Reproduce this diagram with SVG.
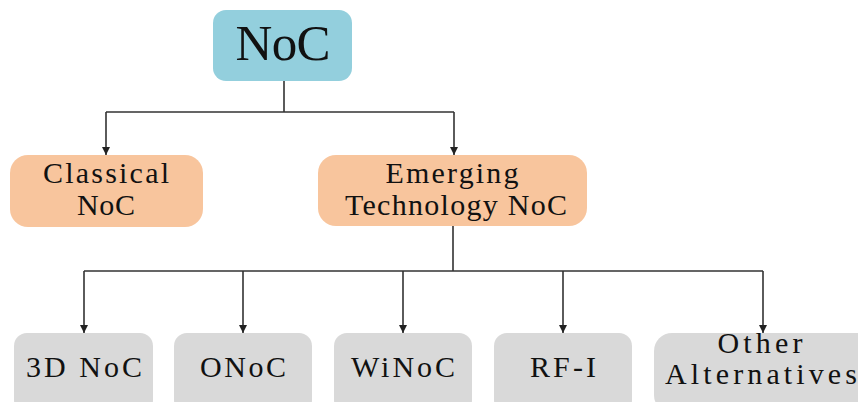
<svg xmlns="http://www.w3.org/2000/svg" width="858" height="402" viewBox="0 0 858 402">
  <defs>
    <marker id="arrow" viewBox="0 0 10 10" refX="10" refY="5" markerWidth="8" markerHeight="8" markerUnits="userSpaceOnUse" orient="auto">
      <path d="M0,0 L10,5 L0,10 z" fill="#222"/>
    </marker>
    <style>
      .root { fill: #93cfdd; }
      .mid { fill: #f8c59d; }
      .leaf { fill: #d9d9d9; }
      text { font-family: "Liberation Serif", "Times New Roman", serif; fill: #111; text-anchor: middle; }
      .big { font-size: 51px; }
      .lbl { font-size: 30px; }
      .wire { fill: none; stroke: #333; stroke-width: 1.6; }
      .arr { fill: none; stroke: #333; stroke-width: 1.6; marker-end: url(#arrow); }
    </style>
  </defs>
  <rect width="858" height="402" fill="#ffffff"/>

  <!-- connectors -->
  <g id="connectors">
    <path class="wire" d="M284,81 V112 M106,112 H454"/>
    <path class="arr" d="M106,112 V155"/>
    <path class="arr" d="M454,112 V155"/>
    <path class="wire" d="M453,226 V271 M84,271 H763"/>
    <path class="arr" d="M84,271 V333"/>
    <path class="arr" d="M243,271 V333"/>
    <path class="arr" d="M403,271 V333"/>
    <path class="arr" d="M563,271 V333"/>
    <path class="arr" d="M763,271 V333"/>
  </g>

  <g id="noc">
    <rect class="root" x="213" y="10" width="139" height="71" rx="13"/>
    <text class="big" x="283" y="60" textLength="95" lengthAdjust="spacing">NoC</text>
  </g>

  <g id="classical">
    <rect class="mid" x="10" y="155" width="193" height="72" rx="18"/>
    <text class="lbl" x="106" y="183" textLength="126" lengthAdjust="spacing">Classical</text>
    <text class="lbl" x="106" y="215" textLength="58" lengthAdjust="spacing">NoC</text>
  </g>

  <g id="emerging">
    <rect class="mid" x="318" y="155" width="269" height="71" rx="18"/>
    <text class="lbl" x="452" y="183" textLength="133" lengthAdjust="spacing">Emerging</text>
    <text class="lbl" x="456" y="215" textLength="222" lengthAdjust="spacing">Technology NoC</text>
  </g>

  <g id="noc3d">
    <rect class="leaf" x="14" y="333" width="139" height="80" rx="13"/>
    <text class="lbl" x="84" y="377" textLength="116" lengthAdjust="spacing">3D NoC</text>
  </g>

  <g id="onoc">
    <rect class="leaf" x="174" y="333" width="138" height="80" rx="13"/>
    <text class="lbl" x="243" y="377" textLength="86" lengthAdjust="spacing">ONoC</text>
  </g>

  <g id="winoc">
    <rect class="leaf" x="334" y="333" width="138" height="80" rx="13"/>
    <text class="lbl" x="403" y="377" textLength="104" lengthAdjust="spacing">WiNoC</text>
  </g>

  <g id="rfi">
    <rect class="leaf" x="494" y="333" width="138" height="80" rx="13"/>
    <text class="lbl" x="563" y="377" textLength="66" lengthAdjust="spacing">RF-I</text>
  </g>

  <g id="other">
    <rect class="leaf" x="654" y="333" width="220" height="80" rx="18"/>
    <text class="lbl" x="760" y="353" textLength="85" lengthAdjust="spacing">Other</text>
    <text class="lbl" x="761" y="384" textLength="192" lengthAdjust="spacing">Alternatives</text>
  </g>
</svg>
